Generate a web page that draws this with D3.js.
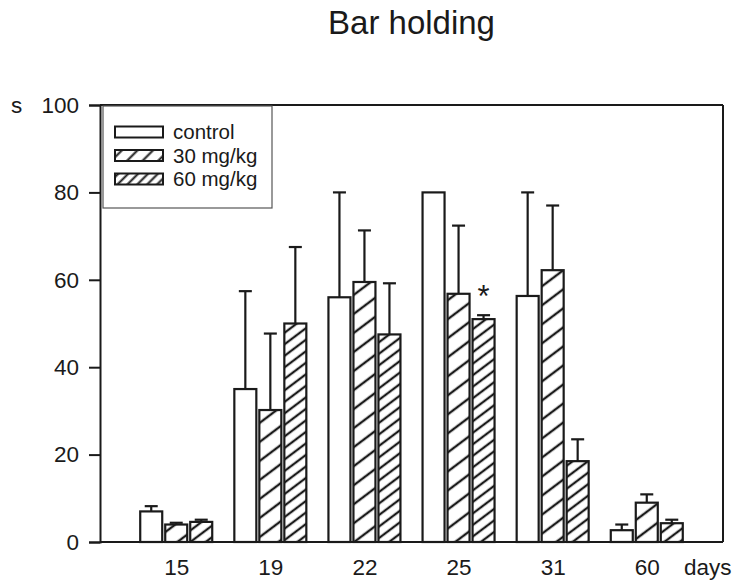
<!DOCTYPE html>
<html>
<head>
<meta charset="utf-8">
<script src="https://cdn.jsdelivr.net/npm/d3@7"></script>
<style>
  body { margin: 0; background: #fff; }
  svg text { font-family: "Liberation Sans", Arial, sans-serif; fill: #1a1a1a; }
</style>
</head>
<body>
<svg id="chart" width="734" height="581"></svg>
<script>
// Bar holding time (s) per day of treatment, mean with upper SD whisker
const days = ["15", "19", "22", "25", "31", "60"];
const series = ["control", "30 mg/kg", "60 mg/kg"];
const controlMean = [7.0, 35.0, 56.0, 80.0, 56.3, 2.7];
const controlErr  = [8.2, 57.4, 80.0, null, 80.0, 4.0];
const dose30Mean  = [4.0, 30.2, 59.5, 56.8, 62.2, 9.0];
const dose30Err   = [4.4, 47.7, 71.3, 72.4, 77.0, 10.9];
const dose60Mean  = [4.6, 50.0, 47.5, 51.0, 18.5, 4.3];
const dose60Err   = [5.1, 67.5, 59.2, 51.9, 23.5, 5.1];
const significant = [{ day: "25", series: "60 mg/kg" }];
const yTicks = [0, 20, 40, 60, 80, 100];

const means = [controlMean, dose30Mean, dose60Mean];
const errs = [controlErr, dose30Err, dose60Err];
const fills = ["#fff", "url(#hatch30)", "url(#hatch60)"];
const legendFills = ["#fff", "url(#lhatch30)", "url(#lhatch60)"];

const svg = d3.select("#chart");
const ink = "#1a1a1a";
const plot = { left: 100, right: 723, top: 105, bottom: 542 };

const y = d3.scaleLinear().domain([0, 100]).range([plot.bottom, plot.top]);
const x = d3.scalePoint().domain(days).range([plot.left, plot.right]).padding(0.81);
const xs = d3.scaleBand().domain(series).range([-36, 36]).paddingInner(0.12);

// diagonal hatch fills
const defs = svg.append("defs");
function hatch(id, spacing, angle, width) {
  const p = defs.append("pattern")
    .attr("id", id)
    .attr("patternUnits", "userSpaceOnUse")
    .attr("width", 40).attr("height", spacing)
    .attr("patternTransform", `rotate(${-angle})`);
  p.append("rect").attr("width", 40).attr("height", spacing).attr("fill", "#fff");
  p.append("line").attr("x1", 0).attr("x2", 40)
    .attr("y1", spacing / 2).attr("y2", spacing / 2)
    .attr("stroke", ink).attr("stroke-width", width);
}
hatch("hatch30", 15.2, 37, 2.3);
hatch("hatch60", 9.2, 37, 2.3);
hatch("lhatch30", 11, 45, 2.2);
hatch("lhatch60", 7, 45, 2.2);

// title
svg.append("text")
  .attr("x", 411.5).attr("y", 34)
  .attr("text-anchor", "middle")
  .attr("font-size", 33)
  .text("Bar holding");

// bars, whiskers
const g = svg.append("g");
series.forEach((s, si) => {
  days.forEach((d, di) => {
    const cx = x(d) + xs(s) + xs.bandwidth() / 2;
    const x0 = x(d) + xs(s);
    const m = means[si][di];
    const e = errs[si][di];
    if (e != null && e > m) {
      g.append("line")
        .attr("x1", cx).attr("x2", cx)
        .attr("y1", y(m)).attr("y2", y(e))
        .attr("stroke", ink).attr("stroke-width", 2.2);
      g.append("line")
        .attr("x1", cx - 6.5).attr("x2", cx + 6.5)
        .attr("y1", y(e)).attr("y2", y(e))
        .attr("stroke", ink).attr("stroke-width", 2.2);
    }
    g.append("rect")
      .attr("x", x0).attr("y", y(m))
      .attr("width", xs.bandwidth())
      .attr("height", y(0) - y(m))
      .attr("fill", fills[si])
      .attr("stroke", ink).attr("stroke-width", 2.2);
  });
});

// significance marker
significant.forEach(sig => {
  const si = series.indexOf(sig.series);
  const di = days.indexOf(sig.day);
  const cx = x(sig.day) + xs(sig.series) + xs.bandwidth() / 2;
  g.append("text")
    .attr("x", cx).attr("y", y(errs[si][di]) - 8)
    .attr("text-anchor", "middle")
    .attr("font-size", 31)
    .text("*");
});

// frame
const frame = svg.append("g").attr("fill", "none").attr("stroke", ink).attr("stroke-width", 2);
frame.append("line").attr("x1", plot.left).attr("x2", plot.right).attr("y1", plot.top).attr("y2", plot.top);
frame.append("line").attr("x1", plot.right).attr("x2", plot.right).attr("y1", plot.top).attr("y2", plot.bottom);
frame.append("line").attr("x1", plot.left).attr("x2", plot.right).attr("y1", plot.bottom).attr("y2", plot.bottom);

// y axis
const yAxis = svg.append("g")
  .attr("transform", `translate(${plot.left},0)`)
  .call(d3.axisLeft(y).tickValues(yTicks).tickSize(11).tickPadding(10));
yAxis.select(".domain").attr("stroke", ink).attr("stroke-width", 2);
yAxis.selectAll(".tick line").attr("stroke", ink).attr("stroke-width", 2);
yAxis.selectAll(".tick text")
  .attr("font-size", 22.5).attr("fill", ink)
  .attr("font-family", "Liberation Sans, Arial, sans-serif");

svg.append("text").attr("x", 11).attr("y", 113).attr("font-size", 22.5).text("s");

// x labels
const xAxis = svg.append("g")
  .attr("transform", `translate(0,${plot.bottom})`)
  .call(d3.axisBottom(x).tickSize(0).tickPadding(17));
xAxis.select(".domain").remove();
xAxis.selectAll(".tick text")
  .attr("font-size", 22.5).attr("fill", ink)
  .attr("font-family", "Liberation Sans, Arial, sans-serif");

svg.append("text").attr("x", 684).attr("y", 575).attr("font-size", 22.5).text("days");

// legend
const lg = svg.append("g");
lg.append("rect")
  .attr("x", 103).attr("y", 106).attr("width", 169).attr("height", 102)
  .attr("fill", "#fff").attr("stroke", "#555").attr("stroke-width", 1.2);
series.forEach((s, i) => {
  const cy = 132 + i * 23.5;
  lg.append("rect")
    .attr("x", 115).attr("y", cy - 5.5).attr("width", 48).attr("height", 11)
    .attr("fill", legendFills[i]).attr("stroke", ink).attr("stroke-width", 2);
  lg.append("text")
    .attr("x", 173).attr("y", cy + 7)
    .attr("font-size", 20.5)
    .text(s);
});
</script>
</body>
</html>
